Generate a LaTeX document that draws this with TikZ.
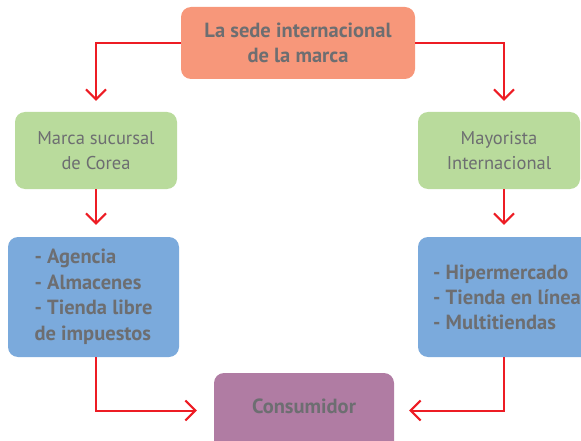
\documentclass[tikz,border=0pt]{standalone}
\usepackage{fontspec}
\setmainfont{PT Sans}
\usetikzlibrary{arrows.meta}
\definecolor{hqcolor}{HTML}{F7977A}
\definecolor{midcolor}{HTML}{B9DB9C}
\definecolor{lowcolor}{HTML}{7BAADC}
\definecolor{endcolor}{HTML}{B07CA3}
\definecolor{linecolor}{HTML}{ED1C24}
\definecolor{textcolor}{HTML}{6D6E71}

\begin{document}
\begin{tikzpicture}[x=1pt, y=-1pt,
   box/.style={rounded corners=10pt, inner sep=0pt, text=textcolor, align=center},
   link/.style={draw=linecolor, line width=2pt, -{Straight Barb[length=10pt,width=20pt]}}]
   \clip (0,0) rectangle (581,441);
   \node [box, fill=hqcolor, minimum width=234pt, minimum height=72pt, font=\bfseries\fontsize{20.5}{25}\selectfont] (T) at (298,43) {La sede internacional\\de la marca};
   \node [box, fill=midcolor, minimum width=162pt, minimum height=77pt, font=\fontsize{18.5}{25}\selectfont] (LM) at (96,150.5) {Marca sucursal\\de Corea};
   \node [box, fill=midcolor, minimum width=162pt, minimum height=77pt, font=\fontsize{18.5}{25}\selectfont] (RM) at (499,150.5) {Mayorista\\Internacional};
   \node [box, fill=lowcolor, align=left, minimum width=171pt, minimum height=120pt, font=\bfseries\fontsize{20.5}{25.5}\selectfont] (LB) at (93.5,297) {- Agencia\\- Almacenes\\- Tienda libre\\de impuestos};
   \node [box, fill=lowcolor, align=left, minimum width=178pt, minimum height=120pt, font=\bfseries\fontsize{20.5}{25}\selectfont] (RB) at (507,297) {- Hipermercado\\- Tienda en línea\\- Multitiendas};
   \node [box, fill=endcolor, minimum width=180pt, text height=40pt, text depth=47pt, anchor=base, font=\bfseries\fontsize{20.5}{25}\selectfont] (B) at (304,413) {Consumidor};
   \draw [link, shorten >=11pt] (T.west) -| (LM.north);
   \draw [link, shorten >=11pt] (T.east) -| ([xshift=5pt]RM.north);
   \draw [link, shorten >=12pt] (LM.south) -- (LM.south |- LB.north);
   \draw [link, shorten >=12pt] ([xshift=5pt]RM.south) -- ([xshift=5pt]RM.south |- RB.north);
   \draw [link, shorten >=17pt] (LM.south |- LB.south) |- (B.mid west);
   \draw [link, shorten >=15pt] ([xshift=5pt]RM.south |- RB.south) |- (B.mid east);
\end{tikzpicture}
\end{document}
